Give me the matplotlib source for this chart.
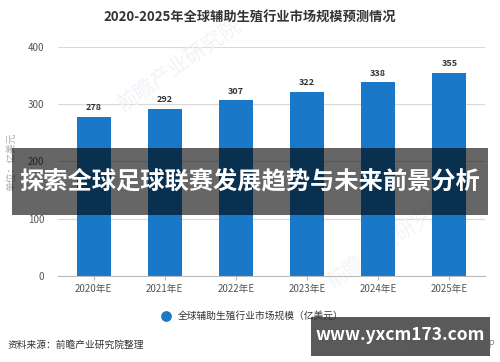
import matplotlib.pyplot as plt
from matplotlib.patches import Rectangle

plt.rcParams['font.family'] = ['Noto Sans CJK SC', 'DejaVu Sans']

years = ['2020年E', '2021年E', '2022年E', '2023年E', '2024年E', '2025年E']
market = [278, 292, 307, 322, 338, 355]
yticks = [0, 100, 200, 300, 400]

title = '2020-2025年全球辅助生殖行业市场规模预测情况'
series_name = '全球辅助生殖行业市场规模（亿美元）'
y_label = '单位：亿美元'
source = '资料来源：前瞻产业研究院整理'
credit = '@前瞻经济学人APP'
banner = '探索全球足球联赛发展趋势与未来前景分析'
site = 'www.yxcm173.com'

bar_color = '#1a78c8'

fig = plt.figure(figsize=(5, 3.62), dpi=100)
ax = fig.add_axes([0.116, 0.2376, 0.854, 0.6326])

x = list(range(len(years)))
ax.bar(x, market, width=0.48, color=bar_color, zorder=2)
for xi, v in zip(x, market):
    ax.text(xi, v + 8, str(v), ha='center', va='bottom', fontsize=6.5,
            fontweight='bold', color='#333333', zorder=3)

ax.set_xlim(-0.5, 5.5)
ax.set_ylim(0, 400)
ax.set_yticks(yticks)
ax.set_xticks(x)
ax.set_xticklabels(years)
ax.yaxis.grid(True, color='#d9d9d9', linewidth=0.8, zorder=0)
ax.set_axisbelow(True)
for s in ['top', 'right', 'left']:
    ax.spines[s].set_visible(False)
ax.spines['bottom'].set_color('#bbbbbb')
ax.tick_params(axis='y', length=0, labelsize=7, colors='#555555', pad=10)
ax.tick_params(axis='x', length=3, color='#bbbbbb', labelsize=7, colors='#555555', pad=3)
ax.set_ylabel(y_label, fontsize=7, color='#aaaaaa', labelpad=8)

fig.text(0.5, 0.952, title, ha='center', va='center', fontsize=9.5,
         fontweight='bold', color='#333333')

# faint watermark behind the bars
ax.text(0.36, 0.82, '前瞻产业研究院', rotation=35, fontsize=15, color='#f0f3f7',
        ha='center', va='center', transform=fig.transFigure, zorder=1)
ax.text(0.78, 0.33, '前瞻产业研究院', rotation=35, fontsize=15, color='#f3f5f8',
        ha='center', va='center', transform=fig.transFigure, zorder=1)

# legend
ax.scatter([], [], s=45, color=bar_color, label=series_name)
fig.legend(loc='center', bbox_to_anchor=(0.5, 0.128), frameon=False,
           fontsize=7, handletextpad=0.2, labelcolor='#333333')

fig.text(0.016, 0.047, source, ha='left', va='center', fontsize=7, color='#333333')
fig.text(0.99, 0.047, credit, ha='right', va='center', fontsize=7, color='#888888')

# overlay banner
fig.patches.append(Rectangle((0.024, 0.406), 0.952, 0.185, transform=fig.transFigure,
                             facecolor='black', alpha=0.6, zorder=5))
fig.text(0.5, 0.498, banner, ha='center', va='center', fontsize=17.5,
         fontweight='bold', color='white', zorder=6)

# site badge
fig.patches.append(Rectangle((0.622, 0.017), 0.358, 0.108, transform=fig.transFigure,
                             facecolor='#555555', alpha=0.97, zorder=5))
fig.text(0.8, 0.075, site, ha='center', va='center', fontsize=12.5,
         fontweight='bold', color='white', zorder=6)

fig.savefig('out.png', dpi=100)
